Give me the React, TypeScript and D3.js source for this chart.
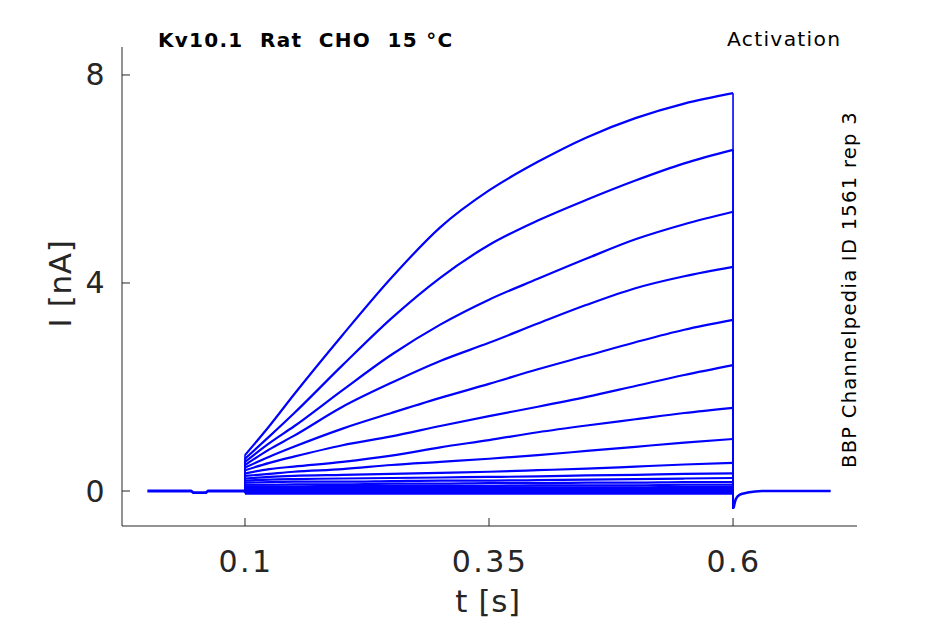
import React from "react";
import * as d3 from "d3";

// Sample times (s) during the activation step
const stepTimes = [0.1, 0.125, 0.15, 0.2, 0.25, 0.3, 0.35, 0.4, 0.45, 0.5, 0.55, 0.6];

// Current (nA) of each sweep at the step sample times
const sweep1 = [0.69, 1.25, 1.85, 3.0, 4.1, 5.07, 5.78, 6.33, 6.8, 7.17, 7.45, 7.65];
const sweep2 = [0.62, 1.05, 1.49, 2.42, 3.32, 4.1, 4.73, 5.2, 5.6, 5.97, 6.3, 6.56];
const sweep3 = [0.56, 0.92, 1.24, 1.94, 2.62, 3.2, 3.68, 4.08, 4.47, 4.84, 5.13, 5.37];
const sweep4 = [0.5, 0.8, 1.06, 1.62, 2.08, 2.5, 2.85, 3.22, 3.58, 3.9, 4.13, 4.31];
const sweep5 = [0.45, 0.66, 0.85, 1.2, 1.5, 1.79, 2.06, 2.34, 2.6, 2.86, 3.1, 3.29];
const sweep6 = [0.4, 0.54, 0.66, 0.88, 1.05, 1.25, 1.44, 1.62, 1.81, 2.02, 2.23, 2.42];
const sweep7 = [0.34, 0.42, 0.47, 0.56, 0.68, 0.84, 0.98, 1.13, 1.26, 1.38, 1.5, 1.6];
const sweep8 = [0.29, 0.33, 0.37, 0.42, 0.5, 0.56, 0.62, 0.69, 0.77, 0.85, 0.93, 1.0];
const sweep9 = [0.24, 0.27, 0.29, 0.31, 0.33, 0.35, 0.37, 0.4, 0.43, 0.47, 0.51, 0.54];
const sweep10 = [0.2, 0.22, 0.23, 0.24, 0.25, 0.26, 0.27, 0.28, 0.3, 0.31, 0.33, 0.34];
const sweep11 = [0.16, 0.17, 0.18, 0.18, 0.19, 0.2, 0.2, 0.21, 0.22, 0.23, 0.24, 0.25];
const sweep12 = [0.12, 0.12, 0.13, 0.13, 0.14, 0.14, 0.15, 0.15, 0.16, 0.16, 0.17, 0.17];
const sweep13 = [0.09, 0.09, 0.09, 0.1, 0.1, 0.1, 0.1, 0.11, 0.11, 0.11, 0.12, 0.12];
const sweep14 = [0.06, 0.06, 0.06, 0.06, 0.07, 0.07, 0.07, 0.07, 0.07, 0.07, 0.08, 0.08];
const sweep15 = [0.04, 0.04, 0.04, 0.04, 0.04, 0.04, 0.04, 0.04, 0.05, 0.05, 0.05, 0.05];
const sweep16 = [0.02, 0.02, 0.02, 0.02, 0.02, 0.02, 0.02, 0.02, 0.02, 0.02, 0.02, 0.02];
const sweep17 = [0.0, 0.0, 0.0, 0.0, 0.0, 0.0, 0.0, 0.0, 0.0, 0.0, 0.0, 0.0];
const sweep18 = [-0.03, -0.03, -0.03, -0.03, -0.03, -0.03, -0.03, -0.03, -0.03, -0.03, -0.03, -0.03];
const sweep19 = [-0.05, -0.05, -0.05, -0.05, -0.05, -0.05, -0.05, -0.05, -0.05, -0.05, -0.05, -0.05];

const sweeps = [
  sweep1, sweep2, sweep3, sweep4, sweep5, sweep6, sweep7, sweep8, sweep9, sweep10,
  sweep11, sweep12, sweep13, sweep14, sweep15, sweep16, sweep17, sweep18, sweep19,
];

// Holding period before the step
const preTimes = [0.0, 0.045, 0.047, 0.06, 0.062, 0.1];
const preValues = [0.0, 0.0, -0.03, -0.03, 0.0, 0.0];

// Tail after the step
const tailTimes = [0.6005, 0.603, 0.607, 0.615, 0.63, 0.7];
const tailValues = [-0.33, -0.15, -0.07, -0.03, 0.0, 0.0];

// Axis ticks
const xTicks = [0.1, 0.35, 0.6];
const yTicks = [0, 4, 8];

const title = "Kv10.1  Rat  CHO  15 °C";
const cornerLabel = "Activation";
const sideLabel = "BBP Channelpedia ID 1561 rep 3";
const xLabel = "t [s]";
const yLabel = "I [nA]";

export default function App() {
  const W = 945;
  const H = 624;
  const left = 122;
  const right = 857;
  const top = 47;
  const bottom = 526;

  const x = d3.scaleLinear().domain([-0.026, 0.727]).range([left, right]);
  const y = d3.scaleLinear().domain([-0.673, 8.538]).range([bottom, top]);

  const linear = d3
    .line<[number, number]>()
    .x((d) => x(d[0]))
    .y((d) => y(d[1]));
  const smooth = d3
    .line<[number, number]>()
    .x((d) => x(d[0]))
    .y((d) => y(d[1]))
    .curve(d3.curveMonotoneX);

  const prePts: [number, number][] = preTimes.map((t, i) => [t, preValues[i]]);
  const tailPts: [number, number][] = tailTimes.map((t, i) => [t, tailValues[i]]);

  const blue = "#0000ff";
  const ink = "#262626";
  const font = "DejaVu Sans, sans-serif";
  const ls = "0.08em";

  return (
    <svg
      width={W}
      height={H}
      style={{ position: "absolute", left: 0, top: 0, background: "#fff" }}
    >
      <rect width={W} height={H} fill="#fff" />
      {/* traces */}
      <g fill="none" stroke={blue} strokeLinejoin="round">
        <path d={linear(prePts) || ""} strokeWidth={2.8} />
        {sweeps.map((s, k) => {
          const pts: [number, number][] = stepTimes.map((t, i) => [t, s[i]]);
          const jumpIn: [number, number][] = [
            [0.1, 0],
            [0.1, s[0]],
          ];
          const jumpOut: [number, number][] = [
            [0.6, s[s.length - 1]],
            [0.6, tailValues[0]],
          ];
          return (
            <g key={k}>
              <path d={linear(jumpIn) || ""} strokeWidth={1.6} />
              <path d={smooth(pts) || ""} strokeWidth={2.2} />
              <path d={linear(jumpOut) || ""} strokeWidth={1.6} />
            </g>
          );
        })}
        <path d={smooth(tailPts) || ""} strokeWidth={2.6} />
      </g>

      {/* axes */}
      <g stroke={ink} strokeWidth={1} fill="none">
        <line x1={left} y1={top} x2={left} y2={bottom} />
        <line x1={left} y1={bottom} x2={right} y2={bottom} />
        {yTicks.map((t) => (
          <line key={"yt" + t} x1={left} x2={left + 8} y1={y(t)} y2={y(t)} />
        ))}
        {xTicks.map((t) => (
          <line key={"xt" + t} x1={x(t)} x2={x(t)} y1={bottom} y2={bottom - 8} />
        ))}
      </g>
      <g fill={ink} fontFamily={font} fontSize={30}>
        {yTicks.map((t) => (
          <text
            key={"yl" + t}
            x={left - 15}
            y={y(t)}
            textAnchor="end"
            dominantBaseline="central"
            letterSpacing={ls}
          >
            {String(t)}
          </text>
        ))}
        {xTicks.map((t) => (
          <text key={"xl" + t} x={x(t) + 1} y={572} textAnchor="middle" letterSpacing={ls}>
            {String(t)}
          </text>
        ))}
        <text x={488} y={612} textAnchor="middle" fontSize={31} letterSpacing="0.02em">
          {xLabel}
        </text>
        <text
          transform={`translate(71, ${(top + bottom) / 2 - 3}) rotate(-90)`}
          textAnchor="middle"
          fontSize={31}
          letterSpacing="0.02em"
        >
          {yLabel}
        </text>
      </g>
      <g fontFamily={font} fill="#000" letterSpacing={ls} style={{ whiteSpace: "pre" }}>
        <text x={158} y={47} fontSize={20} fontWeight="bold" style={{ whiteSpace: "pre" }}>
          {title}
        </text>
        <text x={727} y={46} fontSize={20.3}>
          {cornerLabel}
        </text>
        <text
          transform={`translate(856, 468) rotate(-90)`}
          fontSize={19.5}
          textAnchor="start"
        >
          {sideLabel}
        </text>
      </g>
    </svg>
  );
}
